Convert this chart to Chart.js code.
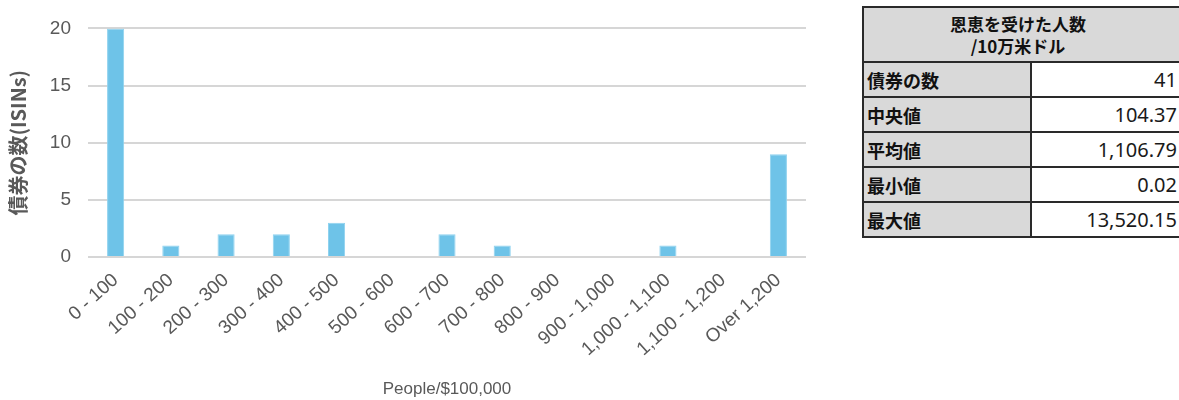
<!DOCTYPE html>
<html lang="ja">
<head>
<meta charset="utf-8">
<title>恩恵を受けた人数 /10万米ドル</title>
<script src="https://cdn.jsdelivr.net/npm/chart.js@4"></script>
<style>
  html, body { margin: 0; padding: 0; background: #fff; }
  body { width: 1179px; height: 400px; position: relative; overflow: hidden; }
  #grafik { position: absolute; left: 0; top: 0; width: 830px; height: 400px; }
  #tabela {
    position: absolute; left: 862px; top: 6px; width: 326px;
    border-collapse: collapse; table-layout: fixed;
    font-family: "Noto Sans CJK JP", "Noto Sans", sans-serif;
    color: #111;
  }
  #tabela td, #tabela th { border: 2px solid #2a2a2a; padding: 0 4px; }
  #tabela th {
    background: #d9d9d9; height: 53px; font-size: 17px; font-weight: bold;
    line-height: 22px; text-align: center; padding-right: 18px;
  }
  #tabela td { height: 33px; font-size: 18px; }
  #tabela td.etykieta { background: #d9d9d9; font-weight: bold; padding-left: 3px; }
  #tabela td.wartosc {
    background: #fff; text-align: right; font-family: "Noto Sans", sans-serif;
    font-size: 20px; padding-right: 9px; color: #1a1a1a;
  }
</style>
</head>
<body>
<div id="grafik"><canvas id="wykres"></canvas></div>
<table id="tabela">
  <colgroup><col style="width:168px"><col></colgroup>
  <thead><tr><th colspan="2">恩恵を受けた人数<br>/10万米ドル</th></tr></thead>
  <tbody id="tabelaCialo"></tbody>
</table>
<script>
// przedziały (osoby na 100 000 USD)
const przedzialy = ['0 - 100', '100 - 200', '200 - 300', '300 - 400', '400 - 500', '500 - 600',
  '600 - 700', '700 - 800', '800 - 900', '900 - 1,000', '1,000 - 1,100', '1,100 - 1,200', 'Over 1,200'];
// liczba obligacji w każdym przedziale
const liczbaObligacji = [20, 1, 2, 2, 3, 0, 2, 1, 0, 0, 1, 0, 9];
const podzialkaY = [0, 5, 10, 15, 20];

// statystyki do tabeli
const statystykiNazwy = ['債券の数', '中央値', '平均値', '最小値', '最大値'];
const statystykiWartosci = ['41', '104.37', '1,106.79', '0.02', '13,520.15'];

document.addEventListener('DOMContentLoaded', () => {
    const cialo = document.getElementById('tabelaCialo');
    statystykiNazwy.forEach((nazwa, i) => {
        const wiersz = document.createElement('tr');
        wiersz.innerHTML = `<td class="etykieta">${nazwa}</td><td class="wartosc">${statystykiWartosci[i]}</td>`;
        cialo.appendChild(wiersz);
    });

    const szary = '#595959';
    new Chart(document.getElementById('wykres').getContext('2d'), {
        type: 'bar',
        data: {
            labels: przedzialy,
            datasets: [{
                data: liczbaObligacji,
                backgroundColor: '#6ec3e8',
                borderColor: '#8fd2ef',
                borderWidth: 1,
                barPercentage: 0.31,
                categoryPercentage: 1
            }]
        },
        options: {
            responsive: true,
            maintainAspectRatio: false,
            animation: false,
            layout: { padding: { top: 28, right: 24, left: 0, bottom: 0 } },
            plugins: { legend: { display: false }, tooltip: { enabled: false } },
            scales: {
                x: {
                    grid: { display: false },
                    border: { display: false },
                    ticks: {
                        color: szary,
                        font: { family: 'Liberation Sans, Arial, sans-serif', size: 19 },
                        minRotation: 42,
                        maxRotation: 42,
                        autoSkip: false,
                        padding: 4
                    },
                    title: {
                        display: true,
                        text: 'People/$100,000',
                        color: szary,
                        font: { family: 'Liberation Sans, Arial, sans-serif', size: 17 },
                        padding: { top: 8, bottom: 0 }
                    },
                    afterFit: (skala) => { skala.height = 143; }
                },
                y: {
                    min: 0,
                    max: 20,
                    afterBuildTicks: (skala) => { skala.ticks = podzialkaY.map(v => ({ value: v })); },
                    grid: { color: '#d6d6d6', lineWidth: 2, drawTicks: false },
                    border: { display: false },
                    ticks: {
                        color: szary,
                        font: { family: 'Liberation Sans, Arial, sans-serif', size: 19 },
                        padding: 17
                    },
                    title: {
                        display: true,
                        text: '債券の数(ISINs)',
                        color: szary,
                        font: { family: '"Noto Sans CJK JP", sans-serif', size: 20, weight: 'bold' },
                        padding: { top: 6, bottom: 4 }
                    },
                    afterFit: (skala) => { skala.width = 88; }
                }
            }
        }
    });
});
</script>
</body>
</html>
